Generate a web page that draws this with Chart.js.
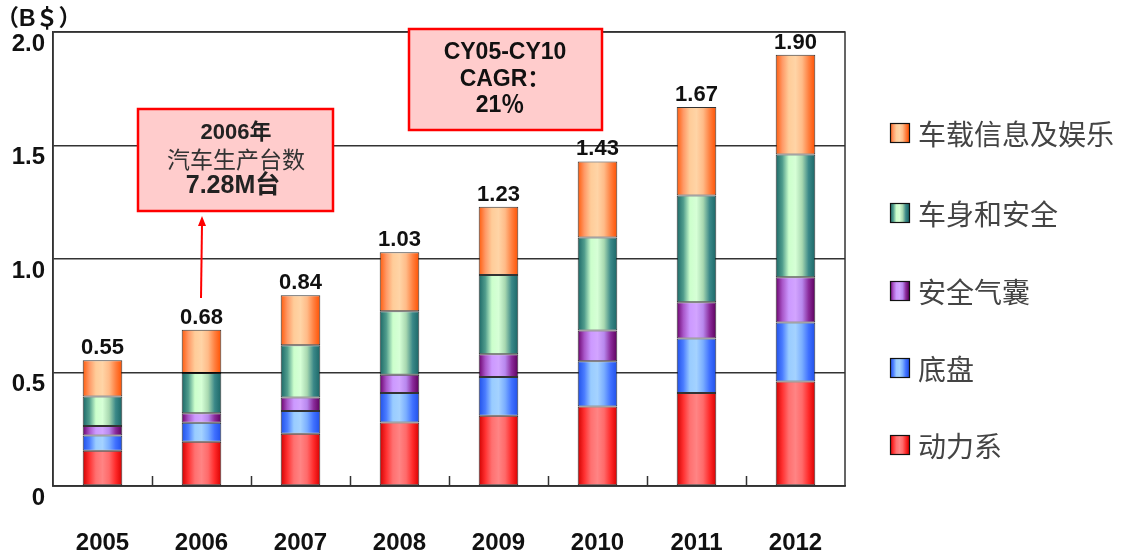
<!DOCTYPE html>
<html>
<head>
<meta charset="utf-8">
<script src="https://cdn.jsdelivr.net/npm/chart.js@4.4.1/dist/chart.umd.min.js"></script>
<style>
html, body { margin: 0; background: #fff; }
</style>
</head>
<body>
<canvas id="myBarChart" width="1138" height="551"></canvas>
<script>
// 데이터
const years = ['2005', '2006', '2007', '2008', '2009', '2010', '2011', '2012'];
const powertrain   = [0.155, 0.195, 0.23, 0.28, 0.31, 0.35, 0.41, 0.46]; // 动力系
const chassis      = [0.067, 0.084, 0.10, 0.13, 0.17, 0.20, 0.24, 0.26]; // 底盘
const airbag       = [0.042, 0.041, 0.06, 0.08, 0.10, 0.135, 0.16, 0.20]; // 安全气囊
const bodySafety   = [0.13, 0.178, 0.23, 0.28, 0.35, 0.41, 0.47, 0.54];  // 车身和安全
const infotainment = [0.16, 0.19, 0.22, 0.26, 0.30, 0.335, 0.39, 0.44];  // 车载信息及娱乐
const totals = ['0.55', '0.68', '0.84', '1.03', '1.23', '1.43', '1.67', '1.90'];
const yTicks = [0, 0.5, 1.0, 1.5, 2.0];

// 막대 줄무늬 색 (왼쪽 -> 오른쪽)
const redCols    = ['#d00000', '#ff3030', '#ff7070', '#ff8484', '#ff6a6a', '#ff2a2a', '#d80000'];
const blueCols   = ['#1f4fe8', '#4a7cff', '#99ccff', '#a4d2ff', '#7aaeff', '#3f70ff', '#1f4fe8'];
const purpleCols = ['#6a006a', '#a855c8', '#cc99ff', '#d2a4ff', '#b888ee', '#8a2a9a', '#5c005c'];
const greenCols  = ['#1a6666', '#4f9c8c', '#ccffcc', '#d6ffd6', '#a8d8b0', '#3a8888', '#1a6666'];
const orangeCols = ['#ff5a0a', '#ff9966', '#ffcc99', '#ffd4a6', '#ffbb88', '#ff8040', '#ff5000'];

const numFont = 'Arial, "Liberation Sans", sans-serif';
const cjkFont = '"Noto Sans CJK SC", sans-serif';

function makeFill(ctx, x0, x1, cols) {
    const g = ctx.createLinearGradient(x0, 0, x1, 0);
    cols.forEach((c, i) => g.addColorStop(i / (cols.length - 1), c));
    return g;
}

function barFill(cols) {
    return (c) => {
        const xs = c.chart.scales.x;
        if (!xs || c.type !== 'data' || !xs.width) return cols[2];
        const cx = xs.getPixelForValue(c.dataIndex);
        const hw = (xs.width / years.length) * 0.4 / 2;
        if (!isFinite(cx) || !isFinite(hw)) return cols[2];
        return makeFill(c.chart.ctx, cx - hw, cx + hw, cols);
    };
}

function series(label, data, cols) {
    return {
        label: label,
        data: data,
        stripes: cols,
        backgroundColor: barFill(cols),
        borderColor: 'rgba(0,0,0,0.8)',
        borderWidth: 1,
        borderSkipped: false,
        barPercentage: 0.4,
        categoryPercentage: 1.0,
    };
}

// 테두리, 눈금, 합계, 주석, 범례
const decorations = {
    id: 'decorations',
    beforeDatasetsDraw(chart) {
        const { ctx, chartArea: a, scales: { x } } = chart;
        ctx.save();
        ctx.strokeStyle = '#333';
        ctx.lineWidth = 1.5;
        ctx.strokeRect(a.left, a.top, a.right - a.left, a.bottom - a.top);
        ctx.beginPath();
        for (let i = 0; i < years.length - 1; i++) {
            const px = Math.round((x.getPixelForValue(i) + x.getPixelForValue(i + 1)) / 2) + 0.5;
            ctx.moveTo(px, a.bottom);
            ctx.lineTo(px, a.bottom - 10);
        }
        ctx.stroke();
        ctx.restore();
    },
    afterDatasetsDraw(chart) {
        const { ctx } = chart;
        const top = chart.getDatasetMeta(chart.data.datasets.length - 1);
        ctx.save();
        ctx.fillStyle = '#111';
        ctx.font = 'bold 22px ' + numFont;
        ctx.textAlign = 'center';
        ctx.textBaseline = 'bottom';
        top.data.forEach((el, i) => ctx.fillText(totals[i], el.x, el.y - 1));
        ctx.restore();
    },
    afterDraw(chart) {
        const { ctx } = chart;
        ctx.save();

        // 단위
        ctx.fillStyle = '#111';
        ctx.font = 'bold 23px ' + numFont + ', ' + cjkFont;
        ctx.textAlign = 'left';
        ctx.textBaseline = 'middle';
        ctx.fillText('（B＄）', -4, 20);

        // 2006 박스 + 화살표
        ctx.fillStyle = '#ffcccc';
        ctx.strokeStyle = '#ff0000';
        ctx.lineWidth = 2.5;
        ctx.fillRect(138, 109, 195, 102);
        ctx.strokeRect(138, 109, 195, 102);
        ctx.fillStyle = '#222';
        ctx.textAlign = 'center';
        ctx.font = 'bold 22px ' + numFont + ', ' + cjkFont;
        ctx.fillText('2006年', 236, 133);
        ctx.fillStyle = '#333';
        ctx.font = '23px ' + cjkFont;
        ctx.fillText('汽车生产台数', 236, 159);
        ctx.fillStyle = '#222';
        ctx.font = 'bold 25px ' + numFont + ', ' + cjkFont;
        ctx.fillText('7.28M台', 233, 186);

        ctx.strokeStyle = '#ff0000';
        ctx.lineWidth = 2;
        ctx.beginPath();
        ctx.moveTo(201, 298);
        ctx.lineTo(202, 224);
        ctx.stroke();
        ctx.fillStyle = '#ff0000';
        ctx.beginPath();
        ctx.moveTo(202, 216);
        ctx.lineTo(198, 226);
        ctx.lineTo(206, 226);
        ctx.closePath();
        ctx.fill();

        // CAGR 박스
        ctx.fillStyle = '#ffcccc';
        ctx.strokeStyle = '#ff0000';
        ctx.lineWidth = 2.5;
        ctx.fillRect(409, 29, 193, 101);
        ctx.strokeRect(409, 29, 193, 101);
        ctx.fillStyle = '#111';
        ctx.font = 'bold 23px ' + numFont + ', ' + cjkFont;
        ctx.fillText('CY05-CY10', 505, 53);
        ctx.fillText('CAGR：', 505, 80);
        ctx.fillText('21％', 500, 106);

        // 범례
        const ys = [133, 213, 291, 368, 445];
        const list = chart.data.datasets.slice().reverse();
        list.forEach((ds, i) => {
            const y = ys[i];
            ctx.fillStyle = makeFill(ctx, 890, 909, ds.stripes);
            ctx.fillRect(890, y - 10, 19, 19);
            ctx.strokeStyle = '#111';
            ctx.lineWidth = 1.2;
            ctx.strokeRect(890.5, y - 9.5, 19, 19);
            ctx.fillStyle = '#444';
            ctx.font = '28px ' + cjkFont;
            ctx.textAlign = 'left';
            ctx.textBaseline = 'middle';
            ctx.fillText(ds.label, 918, y + 1);
        });
        ctx.restore();
    }
};

const barCanvas = document.getElementById('myBarChart');
const barCtx = barCanvas.getContext('2d');

const myBarChart = new Chart(barCtx, {
    type: 'bar',
    data: {
        labels: years,
        datasets: [
            series('动力系', powertrain, redCols),
            series('底盘', chassis, blueCols),
            series('安全气囊', airbag, purpleCols),
            series('车身和安全', bodySafety, greenCols),
            series('车载信息及娱乐', infotainment, orangeCols),
        ],
    },
    options: {
        responsive: false,
        animation: false,
        layout: { padding: { left: 0, top: 32, right: 293, bottom: 0 } },
        plugins: {
            legend: { display: false },
            tooltip: { enabled: false },
        },
        scales: {
            x: {
                stacked: true,
                afterFit: (s) => { s.height = 65; },
                grid: { display: false },
                border: { display: true, color: '#333', width: 1.5 },
                ticks: {
                    color: '#111',
                    padding: 35,
                    font: { family: numFont, size: 24, weight: 'bold' },
                },
            },
            y: {
                stacked: true,
                min: 0,
                max: 2,
                afterFit: (s) => { s.width = 53; },
                afterBuildTicks: (s) => { s.ticks = yTicks.map(v => ({ value: v })); },
                grid: { color: '#333', lineWidth: 1.5, drawTicks: false },
                border: { display: true, color: '#333', width: 1.5 },
                ticks: {
                    color: '#111',
                    padding: 8,
                    labelOffset: 12,
                    font: { family: numFont, size: 24, weight: 'bold' },
                    callback: (v) => (v === 0 ? '0' : v.toFixed(1)),
                },
            },
        },
    },
    plugins: [decorations],
});
</script>
</body>
</html>
